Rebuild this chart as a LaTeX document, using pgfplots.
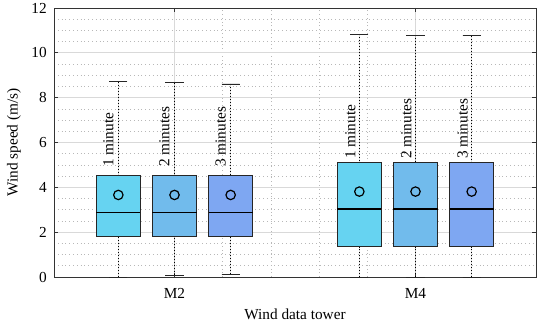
\documentclass[border=0pt]{standalone}
\usepackage{pgfplots}
\pgfplotsset{compat=1.18}
\usepgfplotslibrary{statistics}
\usepackage{fontspec}
\setmainfont{Liberation Serif}
\definecolor{cA}{RGB}{102,211,241}
\definecolor{cB}{RGB}{113,187,236}
\definecolor{cC}{RGB}{126,167,242}
\begin{document}
\fontsize{15.3}{18}\selectfont
\begin{tikzpicture}
\begin{axis}[
  scale only axis, width=482pt, height=269pt,
  xmin=0.5, xmax=2.5, ymin=0, ymax=12,
  xtick={1,2}, xticklabels={M2,M4},
  ytick={0,2,...,12},
  minor x tick num=4, minor y tick num=3,
  grid=both,
  major grid style={draw=black!15, line width=0.8pt},
  minor grid style={draw=black!28, dash pattern=on 0.8pt off 3pt, line width=0.6pt},
  tick align=inside, major tick length=4pt, minor tick length=0pt,
  tick style={draw=black!80, line width=0.8pt},
  ticklabel style={font=\fontsize{15.3}{18}\selectfont},
  label style={font=\fontsize{15.3}{18}\selectfont},
  xticklabel shift=6pt, yticklabel shift=2pt,
  /pgf/number format/assume math mode=true,
  xlabel={Wind data tower}, ylabel={Wind speed (m/s)},
  axis line style={draw=black!80, line width=0.8pt},
  boxplot/draw direction=y,
  boxplot/box extend=0.183,
  boxplot/whisker extend=0.075,
  boxplot/draw/lower whisker/.code={%
    \draw[black, line width=0.9pt, dash pattern=on 0.9pt off 2.1pt] (boxplot cs:\pgfplotsboxplotvalue{lower whisker}) -- (boxplot cs:\pgfplotsboxplotvalue{lower quartile});
    \draw[black!85, line width=0.9pt] (boxplot whisker cs:\pgfplotsboxplotvalue{lower whisker},0) -- (boxplot whisker cs:\pgfplotsboxplotvalue{lower whisker},1);
  },
  boxplot/draw/upper whisker/.code={%
    \draw[black, line width=0.9pt, dash pattern=on 0.9pt off 2.1pt] (boxplot cs:\pgfplotsboxplotvalue{upper whisker}) -- (boxplot cs:\pgfplotsboxplotvalue{upper quartile});
    \draw[black!85, line width=0.9pt] (boxplot whisker cs:\pgfplotsboxplotvalue{upper whisker},0) -- (boxplot whisker cs:\pgfplotsboxplotvalue{upper whisker},1);
  },
  boxplot/draw/median/.code={%
    \draw[black, line width=1.6pt] (boxplot box cs:\pgfplotsboxplotvalue{median},0) -- (boxplot box cs:\pgfplotsboxplotvalue{median},1);
  },
]
% M2
\addplot[boxplot prepared={draw position=0.767, lower whisker=0, lower quartile=1.81, median=2.88, upper quartile=4.55, upper whisker=8.72}, fill=cA, draw=black!85, line width=1pt] coordinates {};
\addplot[boxplot prepared={draw position=1.0, lower whisker=0.08, lower quartile=1.81, median=2.88, upper quartile=4.55, upper whisker=8.67}, fill=cB, draw=black!85, line width=1pt] coordinates {};
\addplot[boxplot prepared={draw position=1.233, lower whisker=0.13, lower quartile=1.81, median=2.88, upper quartile=4.55, upper whisker=8.61}, fill=cC, draw=black!85, line width=1pt] coordinates {};
% M4
\addplot[boxplot prepared={draw position=1.767, lower whisker=0, lower quartile=1.35, median=3.04, upper quartile=5.13, upper whisker=10.83}, fill=cA, draw=black!85, line width=1pt] coordinates {};
\addplot[boxplot prepared={draw position=2.0, lower whisker=0, lower quartile=1.35, median=3.04, upper quartile=5.13, upper whisker=10.79}, fill=cB, draw=black!85, line width=1pt] coordinates {};
\addplot[boxplot prepared={draw position=2.233, lower whisker=0, lower quartile=1.35, median=3.04, upper quartile=5.13, upper whisker=10.76}, fill=cC, draw=black!85, line width=1pt] coordinates {};
% means
\addplot[only marks, mark=o, mark size=4.7pt, mark options={black, line width=1.2pt}] coordinates {(0.767,3.66) (1.0,3.66) (1.233,3.66) (1.767,3.81) (2.0,3.81) (2.233,3.81)};
% labels
\node[rotate=90, anchor=base west, inner sep=0pt] at (axis cs:0.746,4.91) {1 minute};
\node[rotate=90, anchor=base west, inner sep=0pt] at (axis cs:0.979,4.91) {2 minutes};
\node[rotate=90, anchor=base west, inner sep=0pt] at (axis cs:1.212,4.91) {3 minutes};
\node[rotate=90, anchor=base west, inner sep=0pt] at (axis cs:1.750,5.27) {1 minute};
\node[rotate=90, anchor=base west, inner sep=0pt] at (axis cs:1.983,5.27) {2 minutes};
\node[rotate=90, anchor=base west, inner sep=0pt] at (axis cs:2.216,5.27) {3 minutes};
\end{axis}
\pgfresetboundingbox
\path ([shift={(-54pt,-46pt)}]current axis.south west) rectangle ([shift={(14pt,8pt)}]current axis.north east);
\end{tikzpicture}
\end{document}
